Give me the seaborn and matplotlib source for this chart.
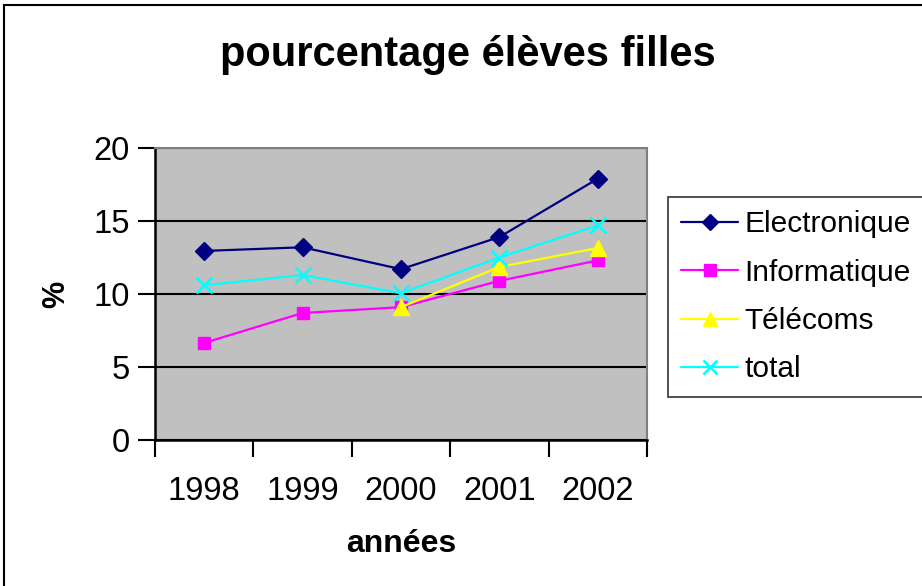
import matplotlib
matplotlib.use("Agg")
import matplotlib.pyplot as plt
import seaborn as sns
import pandas as pd
import numpy as np
from matplotlib.patches import Rectangle
from matplotlib.lines import Line2D

years = ["1998", "1999", "2000", "2001", "2002"]
electronique = [12.95, 13.2, 11.7, 13.9, 17.9]
informatique = [6.65, 8.7, 9.1, 10.9, 12.3]
telecoms = [np.nan, np.nan, 9.1, 11.85, 13.15]
total = [10.6, 11.3, 10.05, 12.5, 14.7]

series_names = ["Electronique", "Informatique", "Télécoms", "total"]
series_values = [electronique, informatique, telecoms, total]

rows = []
for name, vals in zip(series_names, series_values):
    for i, (y, v) in enumerate(zip(years, vals)):
        rows.append({"pos": i, "année": y, "serie": name, "val": v})
df = pd.DataFrame(rows).dropna()

sns.set_theme(style="white")
plt.rcParams['font.family'] = ['Liberation Sans', 'DejaVu Sans']
plt.rcParams['text.color'] = 'black'
plt.rcParams['axes.labelcolor'] = 'black'
plt.rcParams['xtick.color'] = 'black'
plt.rcParams['ytick.color'] = 'black'

palette = {"Electronique": "#000080", "Informatique": "#FF00FF",
           "Télécoms": "#FFFF00", "total": "#00FFFF"}
markers = {"Electronique": "D", "Informatique": "s", "Télécoms": "^", "total": "x"}
msizes = {"Electronique": 9, "Informatique": 9, "Télécoms": 11, "total": 11}

fig = plt.figure(figsize=(9.22, 5.86), dpi=100)
fig.patch.set_facecolor("white")
ax = fig.add_axes([155/922, 1-440/586, (647-155)/922, (440-148)/586])
ax.set_facecolor("#C0C0C0")

for name in series_names:
    sub = df[df["serie"] == name]
    sns.lineplot(data=sub, x="pos", y="val", ax=ax, color=palette[name],
                 marker=markers[name], markersize=msizes[name],
                 markeredgecolor=palette[name], markerfacecolor=palette[name],
                 markeredgewidth=1.8 if name == "total" else 1.0,
                 linewidth=1.6, label=name, legend=False)

ax.set_xlim(-0.5, 4.5)
ax.set_ylim(0, 20)
ax.set_yticks([0, 5, 10, 15, 20])
ax.yaxis.grid(True, color="black", linewidth=1.5)
ax.xaxis.grid(False)
ax.set_xticks(np.arange(-0.5, 4.6, 1.0))
ax.set_xticklabels([])
ax.set_xticks(range(len(years)), minor=True)
ax.set_xticklabels(years, minor=True)
ax.tick_params(axis="x", which="major", direction="out", length=12, width=1.5, color="black", bottom=True)
ax.tick_params(axis="x", which="minor", length=0, pad=26, labelsize=23.5, labelcolor="black")
ax.tick_params(axis="y", direction="out", length=12, width=1.5, color="black", left=True,
               labelsize=23.5, pad=6, labelcolor="black")
for s in ["top", "right"]:
    ax.spines[s].set_color("#808080")
    ax.spines[s].set_linewidth(1.5)
for s in ["left", "bottom"]:
    ax.spines[s].set_color("black")
    ax.spines[s].set_linewidth(1.8)

ax.set_xlabel("années", fontsize=23, fontweight="bold", labelpad=16, color="black")
ax.set_ylabel("%", fontsize=22, fontweight="bold", labelpad=16, color="black")
fig.text(468/922, 1-55/586, "pourcentage élèves filles", ha="center", va="center",
         fontsize=30, fontweight="bold", color="black")

handles = [Line2D([0], [0], color=palette[n], marker=markers[n], markersize=msizes[n]*0.9,
                  markerfacecolor=palette[n], markeredgecolor=palette[n],
                  markeredgewidth=1.8 if n == "total" else 1.0, linewidth=1.6)
           for n in series_names]
leg = fig.legend(handles, series_names, loc="upper left",
                 bbox_to_anchor=(668/922, 1-197/586), fontsize=21.5, frameon=True,
                 fancybox=False, edgecolor="black", borderpad=0.45, labelspacing=0.68,
                 handlelength=1.9, handletextpad=0.2, borderaxespad=0)
leg.get_frame().set_linewidth(1.2)
for t in leg.get_texts():
    t.set_color("black")

fig.patches.append(Rectangle((4/922, -0.1), 1.2, 1.1 - 5/586, transform=fig.transFigure,
                             fill=False, edgecolor="black", linewidth=1.5))

fig.savefig("out.png", dpi=100)
